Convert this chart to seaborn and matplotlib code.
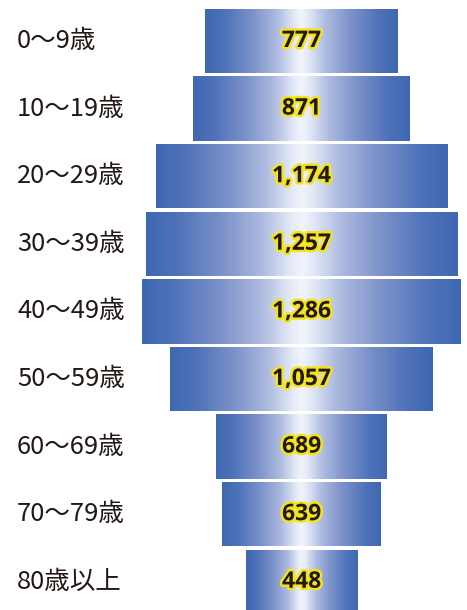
import numpy as np
import pandas as pd
import seaborn as sns
import matplotlib.pyplot as plt
import matplotlib.patheffects as pe
from matplotlib.colors import LinearSegmentedColormap
from matplotlib.transforms import blended_transform_factory

# 年齢層ごとの人数
age_groups = ['0〜9歳', '10〜19歳', '20〜29歳', '30〜39歳', '40〜49歳',
              '50〜59歳', '60〜69歳', '70〜79歳', '80歳以上']
counts = [777, 871, 1174, 1257, 1286, 1057, 689, 639, 448]

df = pd.DataFrame({'age': age_groups, 'count': counts})

sns.set_theme(style='white')
plt.rcParams['font.family'] = ['Noto Sans CJK JP', 'DejaVu Sans']

fig = plt.figure(figsize=(4.67, 6.10), dpi=100)
ax = fig.add_axes([0, 0, 1, 1])

sns.barplot(data=df, x='count', y='age', orient='h', width=0.954,
            color='#4169b2', linewidth=0, ax=ax)

# 中央揃え + グラデーション
cmap = LinearSegmentedColormap.from_list(
    'bluegrad', [(0.0, '#3e68b1'), (0.2, '#4f72b9'), (0.5, '#7d93ca'),
                 (0.75, '#aebbe0'), (0.93, '#e3e9f6'), (1.0, '#f1f4fb')])
grad = (1 - np.abs(np.linspace(-1, 1, 512))).reshape(1, -1)

for p in list(ax.patches):
    w = p.get_width()
    p.set_x(-w / 2)
    y0 = p.get_y()
    h = p.get_height()
    im = ax.imshow(grad, cmap=cmap, aspect='auto', interpolation='bilinear',
                   extent=[-w / 2, w / 2, y0 + h, y0], zorder=2)
    im.set_clip_path(p)

scale = 0.248  # px per unit
ax.set_xlim(-301.5 / scale, (467 - 301.5) / scale)
pitch = 67.6
ax.set_ylim((610 - 41) / pitch, -41 / pitch)
ax.axis('off')

# 数値ラベル
for i, v in enumerate(counts):
    ax.text(0, i, f'{v:,}', ha='center', va='center', fontsize=16.5,
            fontweight='bold', family=['Open Sans', 'DejaVu Sans'],
            color='#231815', zorder=5,
            path_effects=[pe.withStroke(linewidth=3.5, foreground='#f3e41c')])

# 年齢層ラベル
trans = blended_transform_factory(ax.transAxes, ax.transData)
for i, lab in enumerate(age_groups):
    ax.text(17 / 467, i, lab, ha='left', va='center', fontsize=18.4,
            color='#231815', transform=trans)

fig.savefig('out.png', dpi=100)
